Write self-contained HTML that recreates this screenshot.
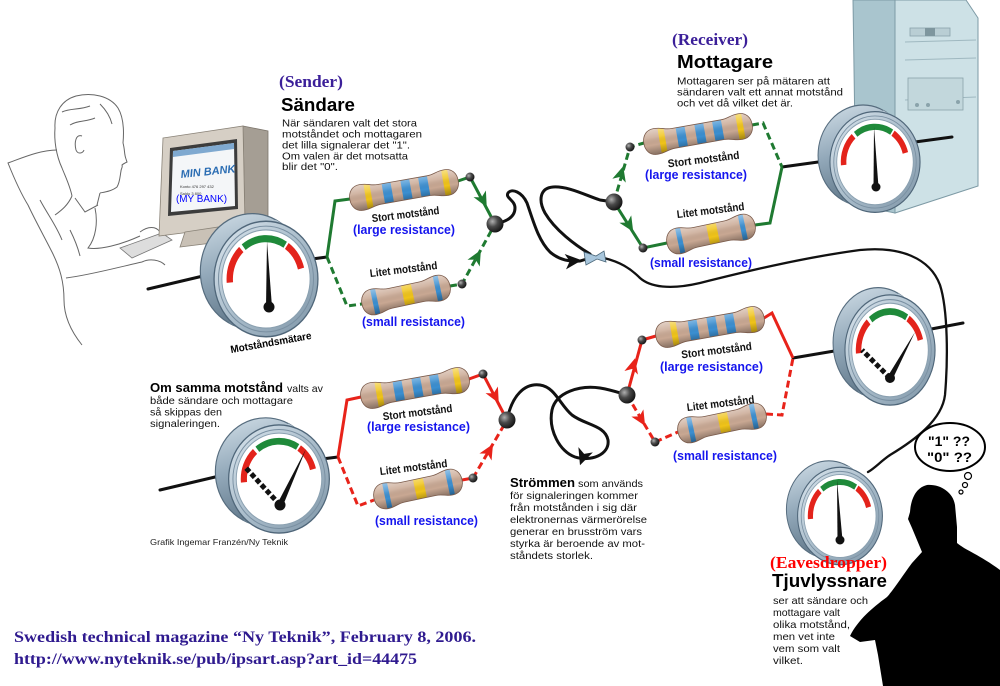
<!DOCTYPE html>
<html><head><meta charset="utf-8">
<style>
html,body{margin:0;padding:0;background:#fff;}
svg{display:block;}
text{font-family:"Liberation Sans",sans-serif;}
.serif{font-family:"Liberation Serif",serif;font-weight:bold;}
.blue{fill:#1515ee;font-size:13px;}
.lab{font-weight:bold;font-size:11px;fill:#111;}
.bd{font-size:10.5px;fill:#111;}
</style></head><body>
<svg width="1000" height="686" viewBox="0 0 1000 686" xmlns="http://www.w3.org/2000/svg">
<defs>
  <linearGradient id="cylG" x1="0" y1="0" x2="0.3" y2="1">
    <stop offset="0" stop-color="#d2dfe8"/><stop offset="0.5" stop-color="#93a9ba"/><stop offset="1" stop-color="#5f7688"/>
  </linearGradient>
  <linearGradient id="ringG" x1="0" y1="0" x2="1" y2="1">
    <stop offset="0" stop-color="#dbe6ee"/><stop offset="0.5" stop-color="#aabdcb"/><stop offset="1" stop-color="#7d94a6"/>
  </linearGradient>
  <radialGradient id="ballG" cx="0.35" cy="0.35" r="0.7">
    <stop offset="0" stop-color="#b0b0b0"/><stop offset="0.45" stop-color="#4a4a4a"/><stop offset="1" stop-color="#111"/>
  </radialGradient>
  <linearGradient id="resShade" x1="0" y1="0" x2="0" y2="1">
    <stop offset="0" stop-color="#fff" stop-opacity="0.55"/>
    <stop offset="0.35" stop-color="#fff" stop-opacity="0.15"/>
    <stop offset="0.6" stop-color="#000" stop-opacity="0"/>
    <stop offset="1" stop-color="#000" stop-opacity="0.4"/>
  </linearGradient>
  <clipPath id="cpS"><path d="M-43,-13 C-51,-13 -55,-7 -55,0 C-55,7 -51,13 -43,13 C-35,13 -32,10 -25,10 L25,10 C32,10 35,13 43,13 C51,13 55,7 55,0 C55,-7 51,-13 43,-13 C35,-13 32,-10 25,-10 L-25,-10 C-32,-10 -35,-13 -43,-13 Z"/></clipPath>
  <clipPath id="cpL"><path d="M-33,-13 C-41,-13 -45,-7 -45,0 C-45,7 -41,13 -33,13 C-26,13 -23,10 -16,10 L16,10 C23,10 26,13 33,13 C41,13 45,7 45,0 C45,-7 41,-13 33,-13 C26,-13 23,-10 16,-10 L-16,-10 C-23,-10 -26,-13 -33,-13 Z"/></clipPath>
  <g id="resS">
    <g clip-path="url(#cpS)">
      <rect x="-60" y="-15" width="120" height="30" fill="#c9a893"/>
      <rect x="-39" y="-15" width="6" height="30" fill="#f0c419"/>
      <rect x="-21" y="-15" width="9" height="30" fill="#3b8fd1"/>
      <rect x="-2" y="-15" width="9" height="30" fill="#3b8fd1"/>
      <rect x="16" y="-15" width="9" height="30" fill="#3b8fd1"/>
      <rect x="40" y="-15" width="6" height="30" fill="#f0c419"/>
      <rect x="-60" y="-15" width="120" height="30" fill="url(#resShade)"/>
    </g>
    <path d="M-43,-13 C-51,-13 -55,-7 -55,0 C-55,7 -51,13 -43,13 C-35,13 -32,10 -25,10 L25,10 C32,10 35,13 43,13 C51,13 55,7 55,0 C55,-7 51,-13 43,-13 C35,-13 32,-10 25,-10 L-25,-10 C-32,-10 -35,-13 -43,-13 Z" fill="none" stroke="#7a5a4a" stroke-width="0.8"/>
  </g>
  <g id="resL">
    <g clip-path="url(#cpL)">
      <rect x="-50" y="-15" width="100" height="30" fill="#c9a893"/>
      <rect x="-34" y="-15" width="5" height="30" fill="#3b8fd1"/>
      <rect x="-3" y="-15" width="10" height="30" fill="#f0c419"/>
      <rect x="30" y="-15" width="5" height="30" fill="#3b8fd1"/>
      <rect x="-50" y="-15" width="100" height="30" fill="url(#resShade)"/>
    </g>
    <path d="M-33,-13 C-41,-13 -45,-7 -45,0 C-45,7 -41,13 -33,13 C-26,13 -23,10 -16,10 L16,10 C23,10 26,13 33,13 C41,13 45,7 45,0 C45,-7 41,-13 33,-13 C26,-13 23,-10 16,-10 L-16,-10 C-23,-10 -26,-13 -33,-13 Z" fill="none" stroke="#7a5a4a" stroke-width="0.8"/>
  </g>
  <g id="gauge">
    <circle cx="-14" cy="-7" r="53" fill="url(#cylG)" stroke="#566c7e" stroke-width="1.2"/>
    <polygon points="23.7,-47.4 9.7,-54.4 -37.7,40.4 -23.7,47.4" fill="url(#cylG)"/>
    <circle cx="0" cy="0" r="53" fill="url(#ringG)" stroke="#4f6679" stroke-width="1.3"/>
    <circle cx="0" cy="0" r="48.5" fill="none" stroke="#7a90a2" stroke-width="1"/>
    <circle cx="0" cy="0" r="45" fill="#fff" stroke="#8aa0b0" stroke-width="1"/>
    <path d="M-36.86,3.22 A37,37 0 0 1 -25.23,-27.06" stroke="#e3231b" stroke-width="6.5" fill="none"/>
    <path d="M-22.78,-29.16 A37,37 0 0 1 19.61,-31.38" stroke="#1f8a3a" stroke-width="6.5" fill="none"/>
    <path d="M21.22,-30.31 A37,37 0 0 1 35.74,-9.58" stroke="#e3231b" stroke-width="6.5" fill="none"/>
  </g>
  <path id="dart" d="M8,0 L-7,-7 L-3,0 L-7,7 Z"/>
</defs>

<!-- ===== Man sketch ===== -->
<g fill="none" stroke="#666" stroke-width="1">
  <path d="M55,128 C54,112 62,100 76,96 C92,92 110,96 118,108 C124,118 124,132 123,143"/>
  <path d="M123,143 C125,150 124,154 126,159 L127,162 C125,163 123,164 122,165 C123,167 121,169 121,171 C120,176 120,182 117,187 C112,191 105,192 100,193"/>
  <path d="M82,136 C76,134 74,142 76,150 C78,155 83,153 84,150"/>
  <path d="M55,128 C54,140 56,155 62,168 C66,178 70,186 72,196"/>
  <path d="M62,112 C70,108 80,110 90,106 M70,125 C78,120 86,122 95,118 M100,104 C106,110 110,116 112,124"/>
  <path d="M100,193 L97,205 M72,196 C68,205 62,210 55,215"/>
  <path d="M57,150 C40,150 22,158 8,163 C14,178 20,192 28,205 C36,222 45,238 52,252 C60,268 64,282 64,300 C64,315 70,330 82,345"/>
  <path d="M75,198 L85,212 L98,205"/>
  <path d="M95,208 C98,222 96,238 88,248 C100,250 120,245 140,236"/>
  <path d="M70,230 C75,240 78,248 80,256 M40,200 C48,215 56,225 62,240"/>
  <path d="M66,278 C90,275 115,268 142,262"/>
  <path d="M140,232 C148,226 156,226 160,232 C158,238 152,242 145,243"/>
  <path d="M142,262 C150,258 160,260 165,265"/>
</g>
<polygon points="120,248 162,233 172,240 132,258" fill="#ddd" stroke="#777" stroke-width="0.8"/>

<!-- ===== Monitor ===== -->
<polygon points="243,126 268,131 268,222 245,225" fill="#a59e94" stroke="#7d766c" stroke-width="0.8"/>
<polygon points="163,138 243,126 245,225 159,236" fill="#d6cfc5" stroke="#8a8378" stroke-width="0.8"/>
<polygon points="170,148 237,139 238,209 168,216" fill="#3c3c3c"/>
<polygon points="173,151 234,143 235,206 171,212" fill="#f4f6f8"/>
<polygon points="173,151 234,143 234,149 173,157" fill="#7fa9d0"/>
<text x="181" y="178" transform="rotate(-6 181 178)" font-family="Liberation Serif, serif" font-style="italic" font-weight="bold" font-size="11" fill="#2b6db3">MIN BANK</text>
<text x="180" y="188" font-size="4" fill="#333">Konto 476 297 432</text>
<text x="180" y="195" font-size="4" fill="#333">Saldo 3 800</text>
<text x="176" y="202" font-family="Liberation Mono, monospace" font-size="10" fill="#0000ff" textLength="51" lengthAdjust="spacingAndGlyphs">(MY BANK)</text>
<polygon points="185,232 225,226 228,241 180,247" fill="#c9c1b6" stroke="#8a8378" stroke-width="0.8"/>

<!-- ===== Tower ===== -->
<polygon points="853,0 895,0 895,213 856,205" fill="#a9c5ce" stroke="#7d9aa5" stroke-width="1"/>
<polygon points="895,0 966,0 978,18 978,186 895,213" fill="#cde1e6" stroke="#7d9aa5" stroke-width="1"/>
<line x1="905" y1="42" x2="976" y2="40" stroke="#9fb8c0"/>
<line x1="905" y1="60" x2="976" y2="58" stroke="#9fb8c0"/>
<line x1="905" y1="100" x2="976" y2="97" stroke="#9fb8c0"/>
<rect x="910" y="28" width="40" height="8" fill="#b9ced4" stroke="#8aa3ab" stroke-width="0.8"/>
<rect x="925" y="28" width="10" height="8" fill="#7e969e"/>
<rect x="908" y="78" width="55" height="32" fill="#c2d7dc" stroke="#8aa3ab" stroke-width="0.8"/>
<circle cx="917" cy="105" r="2" fill="#8aa3ab"/><circle cx="928" cy="105" r="2" fill="#8aa3ab"/><circle cx="958" cy="102" r="2" fill="#8aa3ab"/>

<!-- ===== Black wires ===== -->
<g fill="none" stroke="#111" stroke-width="3" stroke-linecap="round">
  <path d="M148,289 L220,272"/>
  <path d="M312,259 L327,257"/>
  <path d="M495,224 C505,222 515,218 515,208 C515,200 505,198 508,193 C512,188 522,192 527,203 C533,220 538,240 550,252 C558,259 568,262 580,261 L590,258"/>
  <path d="M590,254 C575,245 555,230 545,213 C538,200 540,188 553,187 C568,186 585,195 600,200 L614,202"/>
  <path d="M604,258 C620,262 630,268 640,278 C650,287 670,290 700,283 C740,273 800,258 860,250 C900,246 930,258 940,285 C948,310 948,360 945,395 C942,420 915,440 890,455 C880,462 875,468 868,472" stroke-width="2.3"/>
  <path d="M782,167 L840,159"/>
  <path d="M915,142 L952,137"/>
  <path d="M160,490 L232,473"/>
  <path d="M322,459 L338,457"/>
  <path d="M507,420 C512,395 525,383 540,385 C555,387 560,405 572,415 C585,425 605,425 608,440 C610,455 590,462 575,457 C560,452 548,430 552,410 C556,392 580,385 600,388 C612,390 620,393 627,395"/>
  <path d="M793,358 L852,348"/>
  <path d="M926,330 L963,323"/>
</g>

<!-- ===== Green branches ===== -->
<g fill="none" stroke="#1f7a31" stroke-width="3">
  <path d="M327,257 L335,201 L350,199"/>
  <path d="M458,181 L470,177 L495,224"/>
  <path d="M327,257 L347,306 L362,304" stroke-dasharray="7 4"/>
  <path d="M450,286 L462,284 L495,224" stroke-dasharray="7 4"/>
  <path d="M614,202 L630,147 L644,143" stroke-dasharray="7 4"/>
  <path d="M752,125 L763,123 L782,167" stroke-dasharray="7 4"/>
  <path d="M614,202 L643,248 L667,243"/>
  <path d="M755,225 L770,223 L782,167"/>
</g>
<!-- ===== Red branches ===== -->
<g fill="none" stroke="#e8231a" stroke-width="3">
  <path d="M338,457 L347,400 L361,397"/>
  <path d="M469,379 L483,374 L507,420"/>
  <path d="M338,457 L358,506 L374,500" stroke-dasharray="7 4"/>
  <path d="M462,480 L473,478 L507,420" stroke-dasharray="7 4"/>
  <path d="M627,395 L642,340 L656,336"/>
  <path d="M764,318 L772,313 L793,358"/>
  <path d="M627,395 L655,442 L678,432" stroke-dasharray="7 4"/>
  <path d="M766,414 L782,415 L793,358" stroke-dasharray="7 4"/>
</g>

<!-- ===== Resistors ===== -->
<use href="#resS" transform="translate(404,190) rotate(-10)"/>
<use href="#resL" transform="translate(406,295) rotate(-12)"/>
<use href="#resS" transform="translate(698,134) rotate(-10)"/>
<use href="#resL" transform="translate(711,234) rotate(-12)"/>
<use href="#resS" transform="translate(710,327) rotate(-10)"/>
<use href="#resL" transform="translate(722,423) rotate(-12)"/>
<use href="#resS" transform="translate(415,388) rotate(-10)"/>
<use href="#resL" transform="translate(418,489) rotate(-12)"/>

<!-- ===== Balls ===== -->
<g fill="url(#ballG)">
  <circle cx="495" cy="224" r="8.5"/><circle cx="614" cy="202" r="8.5"/>
  <circle cx="507" cy="420" r="8.5"/><circle cx="627" cy="395" r="8.5"/>
  <circle cx="470" cy="177" r="4.5"/><circle cx="462" cy="284" r="4.5"/>
  <circle cx="630" cy="147" r="4.5"/><circle cx="643" cy="248" r="4.5"/>
  <circle cx="483" cy="374" r="4.5"/><circle cx="473" cy="478" r="4.5"/>
  <circle cx="642" cy="340" r="4.5"/><circle cx="655" cy="442" r="4.5"/>
</g>

<!-- ===== Arrows ===== -->
<g fill="#1f7a31">
  <use href="#dart" transform="translate(483,200) rotate(62)"/>
  <use href="#dart" transform="translate(477,257) rotate(-61)"/>
  <use href="#dart" transform="translate(621,174) rotate(-74)"/>
  <use href="#dart" transform="translate(629,225) rotate(58)"/>
</g>
<g fill="#e8231a">
  <use href="#dart" transform="translate(495,396) rotate(62)"/>
  <use href="#dart" transform="translate(489,451) rotate(-60)"/>
  <use href="#dart" transform="translate(633,366) rotate(-75)"/>
  <use href="#dart" transform="translate(641,419) rotate(59)"/>
</g>
<g fill="#111">
  <use href="#dart" transform="translate(573,261) rotate(-5) scale(1.1)"/>
  <use href="#dart" transform="translate(583,457) rotate(110) scale(1.1)"/>
</g>
<polygon points="584,252 596,256 604,251 606,262 597,259 586,265" fill="#a8c6dc" stroke="#4a6678" stroke-width="0.8"/>

<!-- ===== Gauges ===== -->
<use href="#gauge" transform="translate(266,279) scale(0.98,1.09)"/>
<polygon points="272,307 267,241 266,307" fill="#111"/>
<circle cx="269" cy="307" r="5.5" fill="#111"/>

<use href="#gauge" transform="translate(875,162) scale(0.85,0.95)"/>
<polygon points="878.5,187 874,127 873.5,187" fill="#111"/>
<circle cx="876" cy="187" r="4.5" fill="#111"/>

<use href="#gauge" transform="translate(890,350) scale(0.85,1.04)"/>
<line x1="890" y1="378" x2="862" y2="350" stroke="#111" stroke-width="5" stroke-dasharray="5 2.5"/>
<polygon points="892.5,379.3 915,332 887.5,376.7" fill="#111"/>
<circle cx="890" cy="378" r="5" fill="#111"/>

<use href="#gauge" transform="translate(279,479) scale(0.95,1.02)"/>
<line x1="280" y1="505" x2="246" y2="468" stroke="#111" stroke-width="5" stroke-dasharray="5 2.5"/>
<polygon points="282.7,506.2 306,449 277.3,503.8" fill="#111"/>
<circle cx="280" cy="505" r="5.5" fill="#111"/>

<use href="#gauge" transform="translate(840,516) scale(0.8,0.92)"/>
<polygon points="842.5,540 837,480 837.5,540" fill="#111"/>
<circle cx="840" cy="540" r="4.5" fill="#111"/>

<!-- ===== Silhouette ===== -->
<path d="M927,485 C940,484 953,492 955,505 L957,527 L957,543 C965,550 980,555 1000,570 L1000,686 L883,686 L878,655 L875,640 L860,642 L850,636 C858,620 872,608 887,597 C895,588 903,575 912,563 L922,552 L917,540 L912,528 L908,519 L910,512 C911,500 915,488 927,485 Z" fill="#000"/>

<!-- Thought bubble -->
<ellipse cx="950" cy="447" rx="35" ry="24" fill="#fff" stroke="#000" stroke-width="2"/>
<circle cx="968" cy="476" r="3.5" fill="#fff" stroke="#000" stroke-width="1.2"/>
<circle cx="965" cy="485" r="2.5" fill="#fff" stroke="#000" stroke-width="1.2"/>
<circle cx="961" cy="492" r="2" fill="#fff" stroke="#000" stroke-width="1.2"/>
<text x="928" y="446" font-weight="bold" font-size="14" textLength="42" lengthAdjust="spacingAndGlyphs">"1" ??</text>
<text x="927" y="462" font-weight="bold" font-size="14" textLength="45" lengthAdjust="spacingAndGlyphs">"0" ??</text>

<!-- ===== Text: Sender ===== -->
<text class="serif" x="279" y="87" font-size="17" fill="#3b1f99" textLength="64" lengthAdjust="spacingAndGlyphs">(Sender)</text>
<text x="281" y="111" font-weight="bold" font-size="18" textLength="74" lengthAdjust="spacingAndGlyphs">Sändare</text>
<text class="bd" x="282" y="126.5" textLength="135" lengthAdjust="spacingAndGlyphs">När sändaren valt det stora</text>
<text class="bd" x="282" y="137.5" textLength="140" lengthAdjust="spacingAndGlyphs">motståndet och mottagaren</text>
<text class="bd" x="282" y="148.5" textLength="128" lengthAdjust="spacingAndGlyphs">det lilla signalerar det "1".</text>
<text class="bd" x="282" y="159.5" textLength="126" lengthAdjust="spacingAndGlyphs">Om valen är det motsatta</text>
<text class="bd" x="282" y="170" textLength="56" lengthAdjust="spacingAndGlyphs">blir det "0".</text>

<!-- Receiver -->
<text class="serif" x="672" y="45" font-size="17" fill="#3b1f99" textLength="76" lengthAdjust="spacingAndGlyphs">(Receiver)</text>
<text x="677" y="68" font-weight="bold" font-size="18" textLength="96" lengthAdjust="spacingAndGlyphs">Mottagare</text>
<text class="bd" x="677" y="84.5" textLength="153" lengthAdjust="spacingAndGlyphs">Mottagaren ser på mätaren att</text>
<text class="bd" x="677" y="95.5" textLength="166" lengthAdjust="spacingAndGlyphs">sändaren valt ett annat motstånd</text>
<text class="bd" x="677" y="106.5" textLength="116" lengthAdjust="spacingAndGlyphs">och vet då vilket det är.</text>

<!-- Motståndsmätare -->
<text x="271" y="346" transform="rotate(-10 271 343)" text-anchor="middle" font-weight="bold" font-size="10.5" textLength="82" lengthAdjust="spacingAndGlyphs">Motståndsmätare</text>

<!-- Resistor labels -->
<g class="lab">
  <text x="406" y="218" transform="rotate(-7 406 218)" text-anchor="middle" font-weight="bold" font-size="11" textLength="68" lengthAdjust="spacingAndGlyphs">Stort motstånd</text>
  <text x="404" y="273" transform="rotate(-7 404 273)" text-anchor="middle" font-weight="bold" font-size="11" textLength="68" lengthAdjust="spacingAndGlyphs">Litet motstånd</text>
  <text x="704" y="163" transform="rotate(-7 704 163)" text-anchor="middle" font-weight="bold" font-size="11" textLength="72" lengthAdjust="spacingAndGlyphs">Stort motstånd</text>
  <text x="711" y="214" transform="rotate(-7 711 214)" text-anchor="middle" font-weight="bold" font-size="11" textLength="68" lengthAdjust="spacingAndGlyphs">Litet motstånd</text>
  <text x="717" y="354" transform="rotate(-7 717 354)" text-anchor="middle" font-weight="bold" font-size="11" textLength="71" lengthAdjust="spacingAndGlyphs">Stort motstånd</text>
  <text x="721" y="407" transform="rotate(-7 721 407)" text-anchor="middle" font-weight="bold" font-size="11" textLength="68" lengthAdjust="spacingAndGlyphs">Litet motstånd</text>
  <text x="418" y="416" transform="rotate(-7 418 416)" text-anchor="middle" font-weight="bold" font-size="11" textLength="70" lengthAdjust="spacingAndGlyphs">Stort motstånd</text>
  <text x="414" y="471" transform="rotate(-7 414 471)" text-anchor="middle" font-weight="bold" font-size="11" textLength="68" lengthAdjust="spacingAndGlyphs">Litet motstånd</text>
</g>
<g class="serif blue">
  <text x="353" y="234" textLength="102" lengthAdjust="spacingAndGlyphs">(large resistance)</text>
  <text x="362" y="326" textLength="103" lengthAdjust="spacingAndGlyphs">(small resistance)</text>
  <text x="645" y="179" textLength="102" lengthAdjust="spacingAndGlyphs">(large resistance)</text>
  <text x="650" y="267" textLength="102" lengthAdjust="spacingAndGlyphs">(small resistance)</text>
  <text x="660" y="371" textLength="103" lengthAdjust="spacingAndGlyphs">(large resistance)</text>
  <text x="673" y="460" textLength="104" lengthAdjust="spacingAndGlyphs">(small resistance)</text>
  <text x="367" y="431" textLength="103" lengthAdjust="spacingAndGlyphs">(large resistance)</text>
  <text x="375" y="525" textLength="103" lengthAdjust="spacingAndGlyphs">(small resistance)</text>
</g>

<!-- Om samma motstånd -->
<text x="150" y="392" font-weight="bold" font-size="12.5" textLength="133" lengthAdjust="spacingAndGlyphs">Om samma motstånd</text>
<text class="bd" x="287" y="392" textLength="36" lengthAdjust="spacingAndGlyphs">valts av</text>
<text class="bd" x="150" y="404" textLength="143" lengthAdjust="spacingAndGlyphs">både sändare och mottagare</text>
<text class="bd" x="150" y="415.5" textLength="72" lengthAdjust="spacingAndGlyphs">så skippas den</text>
<text class="bd" x="150" y="427" textLength="70" lengthAdjust="spacingAndGlyphs">signaleringen.</text>
<text x="150" y="545" font-size="8.5" fill="#222" textLength="138" lengthAdjust="spacingAndGlyphs">Grafik Ingemar Franzén/Ny Teknik</text>

<!-- Strömmen -->
<text x="510" y="487" font-weight="bold" font-size="12.5" textLength="65" lengthAdjust="spacingAndGlyphs">Strömmen</text>
<text class="bd" x="578" y="487" textLength="65" lengthAdjust="spacingAndGlyphs">som används</text>
<text class="bd" x="510" y="499" textLength="128" lengthAdjust="spacingAndGlyphs">för signaleringen kommer</text>
<text class="bd" x="510" y="511" textLength="127" lengthAdjust="spacingAndGlyphs">från motstånden i sig där</text>
<text class="bd" x="510" y="523" textLength="137" lengthAdjust="spacingAndGlyphs">elektronernas värmerörelse</text>
<text class="bd" x="510" y="535" textLength="132" lengthAdjust="spacingAndGlyphs">generar en brusström vars</text>
<text class="bd" x="510" y="547" textLength="135" lengthAdjust="spacingAndGlyphs">styrka är beroende av mot-</text>
<text class="bd" x="510" y="559" textLength="83" lengthAdjust="spacingAndGlyphs">ståndets storlek.</text>

<!-- Eavesdropper -->
<text class="serif" x="770" y="568" font-size="17" fill="#ff0000" textLength="117" lengthAdjust="spacingAndGlyphs">(Eavesdropper)</text>
<text x="772" y="587" font-weight="bold" font-size="18" textLength="115" lengthAdjust="spacingAndGlyphs">Tjuvlyssnare</text>
<text class="bd" x="773" y="604" textLength="95" lengthAdjust="spacingAndGlyphs">ser att sändare och</text>
<text class="bd" x="773" y="616" textLength="67" lengthAdjust="spacingAndGlyphs">mottagare valt</text>
<text class="bd" x="773" y="628" textLength="77" lengthAdjust="spacingAndGlyphs">olika motstånd,</text>
<text class="bd" x="773" y="640" textLength="62" lengthAdjust="spacingAndGlyphs">men vet inte</text>
<text class="bd" x="773" y="652" textLength="67" lengthAdjust="spacingAndGlyphs">vem som valt</text>
<text class="bd" x="773" y="664" textLength="30" lengthAdjust="spacingAndGlyphs">vilket.</text>

<!-- Citation -->
<text class="serif" x="14" y="642" font-size="16" fill="#2f1a8f" textLength="462" lengthAdjust="spacingAndGlyphs">Swedish technical magazine “Ny Teknik”, February 8, 2006.</text>
<text class="serif" x="14" y="664" font-size="16" fill="#2f1a8f" textLength="403" lengthAdjust="spacingAndGlyphs">http://www.nyteknik.se/pub/ipsart.asp?art_id=44475</text>
</svg>
</body></html>
